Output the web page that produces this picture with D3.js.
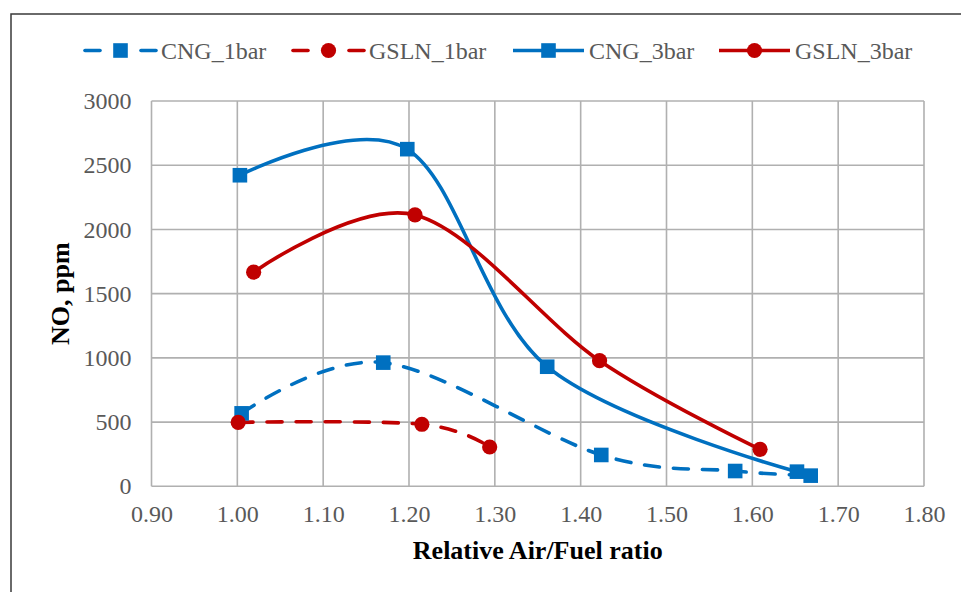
<!DOCTYPE html>
<html>
<head>
<meta charset="utf-8">
<script src="https://cdn.jsdelivr.net/npm/d3@7"></script>
<style>
  html, body { margin: 0; padding: 0; background: #fff; }
  svg { display: block; }
  svg text { font-family: "Liberation Serif", "Times New Roman", Times, "DejaVu Serif", serif; }
</style>
</head>
<body>
<svg id="chart" width="961" height="592"></svg>
<script>
// NO emissions vs. relative air/fuel ratio (lambda)
const xTicks = [0.90, 1.00, 1.10, 1.20, 1.30, 1.40, 1.50, 1.60, 1.70, 1.80];
const yTicks = [0, 500, 1000, 1500, 2000, 2500, 3000];

const cng1Lambda  = [1.005, 1.170, 1.424, 1.580, 1.668];
const cng1NO      = [568, 963, 244, 119, 83];

const gsln1Lambda = [1.001, 1.215, 1.294];
const gsln1NO     = [498, 483, 306];

const cng3Lambda  = [1.003, 1.198, 1.361, 1.652];
const cng3NO      = [2422, 2625, 931, 114];

const gsln3Lambda = [1.019, 1.207, 1.422, 1.609];
const gsln3NO     = [1667, 2113, 978, 288];

const BLUE = "#0070C0", RED = "#C00000";
const SERIF = '"Liberation Serif", "Times New Roman", Times, "DejaVu Serif", serif';

const series = [
  { name: "CNG_1bar",  x: cng1Lambda,  y: cng1NO,  color: BLUE, dashed: true,  marker: "square" },
  { name: "GSLN_1bar", x: gsln1Lambda, y: gsln1NO, color: RED,  dashed: true,  marker: "circle" },
  { name: "CNG_3bar",  x: cng3Lambda,  y: cng3NO,  color: BLUE, dashed: false, marker: "square" },
  { name: "GSLN_3bar", x: gsln3Lambda, y: gsln3NO, color: RED,  dashed: false, marker: "circle" }
];

const svg = d3.select("#chart");
const plot = { left: 151.5, right: 924, top: 101, bottom: 486.3 };

const x = d3.scaleLinear().domain([0.9, 1.8]).range([plot.left, plot.right]);
const y = d3.scaleLinear().domain([0, 3000]).range([plot.bottom, plot.top]);

// outer frame
svg.append("rect")
  .attr("x", 11).attr("y", 14).attr("width", 980).attr("height", 620)
  .attr("fill", "none").attr("stroke", "#3a3a3a").attr("stroke-width", 1.5);

// gridlines
const grid = svg.append("g").attr("stroke", "#b0b0b0").attr("stroke-width", 1.6);
grid.selectAll("line.v").data(xTicks).join("line")
  .attr("x1", d => x(d)).attr("x2", d => x(d))
  .attr("y1", plot.top).attr("y2", plot.bottom);
grid.selectAll("line.h").data(yTicks).join("line")
  .attr("y1", d => y(d)).attr("y2", d => y(d))
  .attr("x1", plot.left).attr("x2", plot.right);

// axes (labels only, lines provided by the grid)
const xAxis = svg.append("g")
  .attr("transform", `translate(0,${plot.bottom})`)
  .call(d3.axisBottom(x).tickValues(xTicks).tickFormat(d3.format(".2f")).tickSize(0).tickPadding(19));
const yAxis = svg.append("g")
  .attr("transform", `translate(${plot.left},0)`)
  .call(d3.axisLeft(y).tickValues(yTicks).tickFormat(d3.format("d")).tickSize(0).tickPadding(20));
[xAxis, yAxis].forEach(a => {
  a.attr("font-family", SERIF).attr("font-size", 24);
  a.select(".domain").remove();
  a.selectAll("text").attr("fill", "#595959");
});

// axis titles
svg.append("text")
  .attr("x", (plot.left + plot.right) / 2).attr("y", 559)
  .attr("text-anchor", "middle")
  .attr("font-family", SERIF)
  .attr("font-size", 26).attr("font-weight", "bold")
  .attr("fill", "#000")
  .text("Relative Air/Fuel ratio");
svg.append("text")
  .attr("transform", `translate(69,${(plot.top + plot.bottom) / 2}) rotate(-90)`)
  .attr("text-anchor", "middle")
  .attr("font-family", SERIF)
  .attr("font-size", 26).attr("font-weight", "bold")
  .attr("fill", "#000")
  .text("NO, ppm");

// smoothed lines
const line = d3.line()
  .x(d => x(d[0])).y(d => y(d[1]))
  .curve(d3.curveCardinal.tension(0));

function drawMarker(g, type, cx, cy, color) {
  if (type === "square") {
    g.append("rect").attr("x", cx - 7.3).attr("y", cy - 7.3)
      .attr("width", 14.6).attr("height", 14.6).attr("fill", color);
  } else {
    g.append("circle").attr("cx", cx).attr("cy", cy).attr("r", 7.6).attr("fill", color);
  }
}

const lines = svg.append("g");
series.forEach(s => {
  const pts = s.x.map((v, i) => [v, s.y[i]]);
  lines.append("path")
    .datum(pts)
    .attr("d", line)
    .attr("fill", "none")
    .attr("stroke", s.color)
    .attr("stroke-width", 3.6)
    .attr("stroke-linecap", s.dashed ? "round" : "butt")
    .attr("stroke-dasharray", s.dashed ? "15,14" : null);
});
series.forEach(s => {
  const g = svg.append("g");
  s.x.forEach((v, i) => drawMarker(g, s.marker, x(v), y(s.y[i]), s.color));
});

// legend
const legendItems = [
  { s: series[0], x0: 85 },
  { s: series[1], x0: 293 },
  { s: series[2], x0: 513 },
  { s: series[3], x0: 719 }
];
const ly = 50.5;
legendItems.forEach(({ s, x0 }) => {
  const g = svg.append("g");
  if (s.dashed) {
    g.append("line").attr("x1", x0).attr("x2", x0 + 15).attr("y1", ly).attr("y2", ly)
      .attr("stroke", s.color).attr("stroke-width", 3.6).attr("stroke-linecap", "round");
    g.append("line").attr("x1", x0 + 56).attr("x2", x0 + 71).attr("y1", ly).attr("y2", ly)
      .attr("stroke", s.color).attr("stroke-width", 3.6).attr("stroke-linecap", "round");
  } else {
    g.append("line").attr("x1", x0).attr("x2", x0 + 71).attr("y1", ly).attr("y2", ly)
      .attr("stroke", s.color).attr("stroke-width", 3.6);
  }
  drawMarker(g, s.marker, x0 + 35.5, ly, s.color);
  g.append("text").attr("x", x0 + 76).attr("y", ly + 8.5)
    .attr("font-family", SERIF)
    .attr("fill", "#595959").attr("font-size", 24)
    .text(s.name);
});
</script>
</body>
</html>
